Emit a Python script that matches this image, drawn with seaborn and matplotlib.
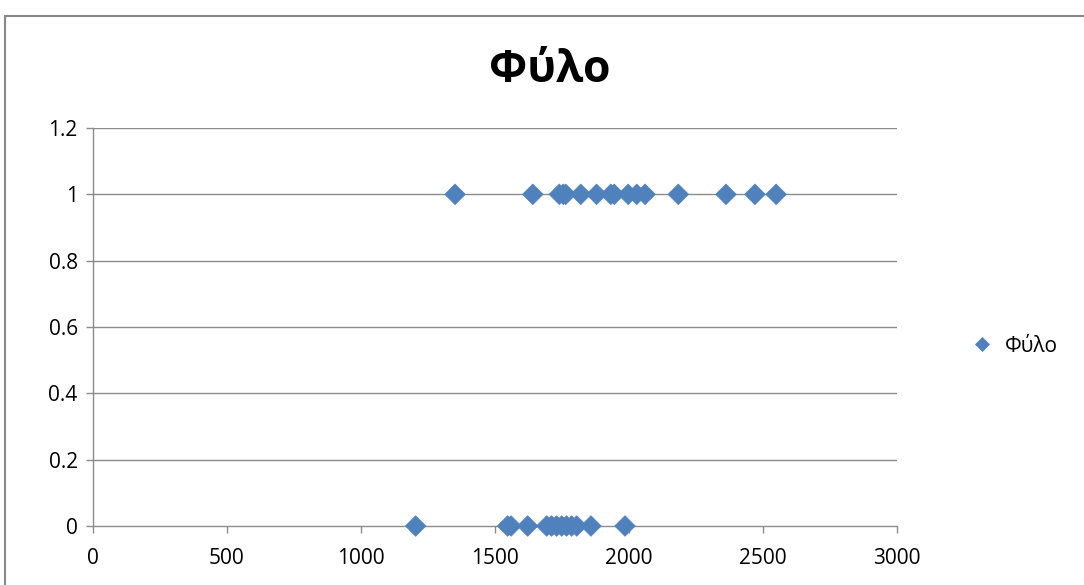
import matplotlib
matplotlib.use("Agg")
import matplotlib.pyplot as plt
import seaborn as sns
import pandas as pd
from matplotlib.patches import Rectangle

# Data
income_male = [1351, 1641, 1740, 1755, 1764, 1820, 1879, 1932, 1945, 1997, 2029, 2060, 2184, 2362, 2470, 2549]
income_female = [1204, 1547, 1560, 1622, 1693, 1711, 1730, 1749, 1767, 1786, 1805, 1858, 1985]
sex_male = [1] * len(income_male)
sex_female = [0] * len(income_female)
series_name = "Φύλο"
x_ticks = [0, 500, 1000, 1500, 2000, 2500, 3000]
y_ticks = [0, 0.2, 0.4, 0.6, 0.8, 1, 1.2]
y_labels = ["0", "0.2", "0.4", "0.6", "0.8", "1", "1.2"]

df = pd.DataFrame({
    "x": income_male + income_female,
    "y": sex_male + sex_female,
    "s": [series_name] * (len(income_male) + len(income_female)),
})

sns.set_style("white")
plt.rcParams["font.family"] = ["Open Sans", "DejaVu Sans"]
plt.rcParams["text.color"] = "black"

fig = plt.figure(figsize=(10.84, 5.85), dpi=100)
ax = fig.add_axes([93 / 1084, 1 - 526 / 585, (897 - 93) / 1084, (526 - 128) / 585])

color = "#4F81BD"
sns.scatterplot(data=df, x="x", y="y", hue="s", palette=[color], marker="D",
                s=110, edgecolor=color, linewidth=0.5, ax=ax, zorder=3, clip_on=False)

ax.set_xlim(0, 3000)
ax.set_ylim(0, 1.2)
ax.set_xticks(x_ticks)
ax.set_xticklabels([str(t) for t in x_ticks], fontsize=15)
ax.set_yticks(y_ticks)
ax.set_yticklabels(y_labels, fontsize=15)
ax.set_xlabel("")
ax.set_ylabel("")

for yv in y_ticks[1:]:
    ax.axhline(yv, color="#8c8c8c", linewidth=1, zorder=1)

for side in ["top", "right"]:
    ax.spines[side].set_visible(False)
for side in ["left", "bottom"]:
    ax.spines[side].set_color("#8c8c8c")
    ax.spines[side].set_linewidth(1)

ax.tick_params(axis="both", which="both", direction="out", length=5, width=1,
               color="#8c8c8c", labelcolor="black", pad=6)
ax.tick_params(axis="x", pad=11)
ax.tick_params(left=True, bottom=True)

fig.text(550 / 1084, 1 - 70 / 585, series_name, fontsize=32, fontweight="bold",
         ha="center", va="center", color="black")

leg = ax.legend(loc="center left", bbox_to_anchor=(942 / 1084, 1 - 346 / 585),
                bbox_transform=fig.transFigure, frameon=False, fontsize=15,
                handletextpad=0.1, markerscale=0.7)
for t in leg.get_texts():
    t.set_color("black")

fig.patches.append(Rectangle((5 / 1084, -0.1), 1.2, 1 - 16 / 585 + 0.1,
                             transform=fig.transFigure, fill=False,
                             edgecolor="#888888", linewidth=1.5))

fig.savefig("out.png", dpi=100)
